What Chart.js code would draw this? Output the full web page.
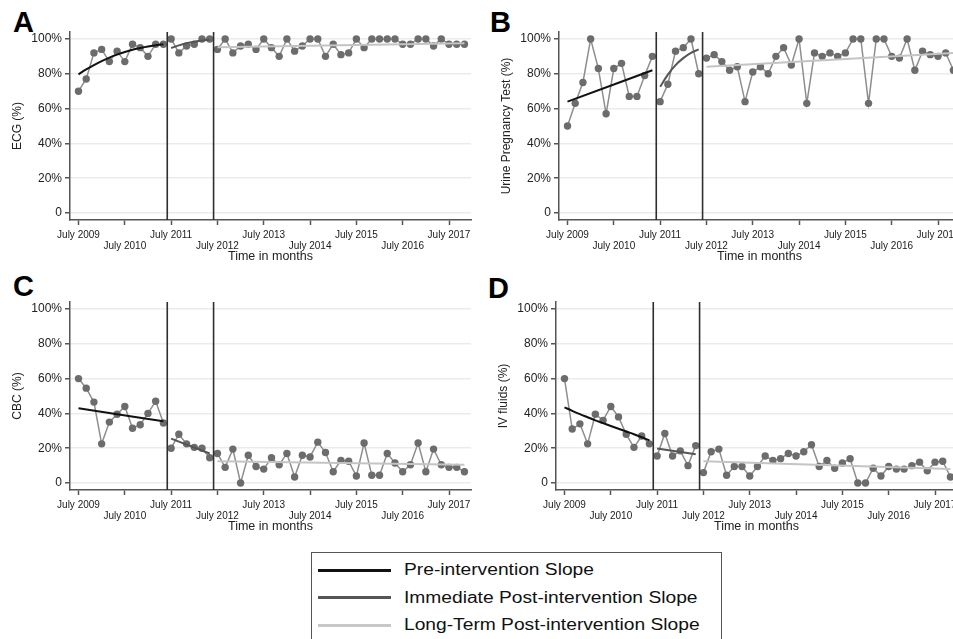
<!DOCTYPE html>
<html>
<head>
<meta charset="utf-8">
<script src="https://cdn.jsdelivr.net/npm/chart.js@4.4.1/dist/chart.umd.min.js"></script>
<style>
  html, body { margin: 0; padding: 0; background: #fff; }
  body { width: 953px; height: 639px; overflow: hidden; position: relative; font-family: 'Liberation Sans', Arial, sans-serif; }
  canvas { position: absolute; }
  .letter { position: absolute; font-weight: bold; font-size: 29px; line-height: 29px; color: #000; }
  #legend { position: absolute; left: 311px; top: 552px; width: 411px; height: 110px; border: 1px solid #555; box-sizing: border-box; }
  .swatch { position: absolute; left: 6px; width: 73px; height: 3px; }
  .label { position: absolute; left: 92px; height: 20px; line-height: 20px; font-size: 16px; white-space: nowrap; color: #111;
           transform: scaleX(1.2); transform-origin: left center; }
</style>
</head>
<body>
<div class="letter" style="left:13px;top:8px">A</div>
<div class="letter" style="left:490px;top:8px">B</div>
<div class="letter" style="left:13px;top:272px">C</div>
<div class="letter" style="left:488px;top:274px">D</div>

<canvas id="chartA" width="480" height="270" style="left:0px;top:0px"></canvas>
<canvas id="chartB" width="480" height="270" style="left:489px;top:0px"></canvas>
<canvas id="chartC" width="480" height="270" style="left:0px;top:270px"></canvas>
<canvas id="chartD" width="480" height="270" style="left:486px;top:270px"></canvas>

<div id="legend">
  <div class="swatch" style="top:15.5px;background:#111"></div>
  <div class="label" style="top:7px">Pre-intervention Slope</div>
  <div class="swatch" style="top:43px;background:#555"></div>
  <div class="label" style="top:34.5px">Immediate Post-intervention Slope</div>
  <div class="swatch" style="top:70.5px;background:#c8c8c8"></div>
  <div class="label" style="top:62px">Long-Term Post-intervention Slope</div>
</div>

<script>
// months since July 2009, one point every two months
const preMonths = [0, 2, 4, 6, 8, 10, 12, 14, 16, 18, 20, 22];
const immMonths = [24, 26, 28, 30, 32, 34];
const longMonths = [36, 38, 40, 42, 44, 46, 48, 50, 52, 54, 56, 58, 60, 62, 64, 66, 68,
  70, 72, 74, 76, 78, 80, 82, 84, 86, 88, 90, 92, 94, 96, 98, 100];
const interventionMonths = [23, 35];

const tickMonths = [0, 12, 24, 36, 48, 60, 72, 84, 96];
const tickLabels = ['July 2009', 'July 2010', 'July 2011', 'July 2012', 'July 2013',
  'July 2014', 'July 2015', 'July 2016', 'July 2017'];
const yTicks = [0, 20, 40, 60, 80, 100];

// A: ECG
const ecgPre = [70, 77, 92, 94, 87, 93, 87, 97, 95, 90, 97, 97];
const ecgImm = [100, 92, 96, 97, 100, 100];
const ecgLong = [94, 100, 92, 96, 97, 94, 100, 95, 90, 100, 93, 96, 100, 100, 90, 97, 91,
  92, 100, 95, 100, 100, 100, 100, 97, 97, 100, 100, 96, 100, 97, 97, 97];
const ecgPreFit = [79.7, 82.5, 85, 87.3, 89.3, 91, 92.5, 93.8, 94.8, 95.7, 96.4, 97];
const ecgImmFit = [94.8, 96.3, 97.5, 98.4, 99.1, 99.6];
const ecgLongFit = [95.2, 97.6];

// B: Urine pregnancy test
const upPre = [50, 63, 75, 100, 83, 57, 83, 86, 67, 67, 79, 90];
const upImm = [64, 74, 93, 95, 100, 80];
const upLong = [89, 91, 87, 82, 84, 64, 81, 84, 80, 90, 95, 85, 100, 63, 92, 90, 92,
  90, 92, 100, 100, 63, 100, 100, 90, 89, 100, 82, 93, 91, 90, 92, 82];
const upPreFit = [64, 82];
const upImmFit = [72.5, 79.5, 85, 89, 92, 94];
const upLongFit = [84, 92];

// C: CBC
const cbcPre = [60, 54.5, 46.5, 22.5, 35, 39.5, 44, 31.5, 33.5, 40, 47, 34.5];
const cbcImm = [20, 28, 22.5, 20.5, 20, 14.5];
const cbcLong = [17, 9, 19.5, 0, 16, 9.5, 8, 14.5, 10.5, 17, 3.5, 16, 15, 23.5, 17.5, 6.5, 13,
  12.5, 4, 23, 4.5, 4.5, 17, 11.5, 6.5, 10.5, 23, 6.5, 19.5, 10.5, 9, 9, 6.5];
const cbcPreFit = [43, 35.5];
const cbcImmFit = [25.5, 17];
const cbcLongFit = [12.5, 10.5];

// D: IV fluids
const ivPre = [60, 31, 34, 22.5, 39.5, 36, 44, 38, 28, 20.5, 27, 22.5];
const ivImm = [15.5, 28.5, 15.5, 18.5, 10, 21.5];
const ivLong = [6, 18, 19.5, 4.5, 9.5, 9.5, 4, 9.5, 15.5, 13, 14, 17, 15.5, 18, 22, 9.5, 13,
  8.5, 11.5, 14, 0, 0, 8.5, 4, 9.5, 8, 8, 10, 12, 7, 12, 12.5, 3.5];
const ivPreFit = [43.5, 41.5, 39.6, 37.8, 36, 34.4, 32.8, 31.2, 29.6, 28, 26.3, 24.5];
const ivImmFit = [19.8, 16.5];
const ivLongFit = [12.5, 8];

const X_MIN = -2.2, X_MAX = 101.7;
const Y_MIN = -4, Y_MAX = 104;
const FONT = "'Liberation Sans', Arial, sans-serif";

function pts(months, vals) {
  return months.map((m, i) => ({ x: m, y: vals[i] }));
}
// a fit is either one value per month or just its two ends
function fitPts(months, fit) {
  if (fit.length === months.length) return pts(months, fit);
  return [{ x: months[0], y: fit[0] }, { x: months[months.length - 1], y: fit[1] }];
}

function fitSet(months, fit, color) {
  return {
    data: fitPts(months, fit),
    borderColor: color, borderWidth: 2, pointRadius: 0,
    cubicInterpolationMode: 'monotone', tension: 0.4
  };
}
function dataSet(months, vals) {
  return {
    data: pts(months, vals),
    borderColor: '#8e8e8e', borderWidth: 1.5,
    pointRadius: 3.7, pointBackgroundColor: '#6c6c6c', pointBorderWidth: 0
  };
}

function makePanel(id, yTitle, pre, imm, long, preFit, immFit, longFit) {
  const vlines = interventionMonths.map(m => ({
    data: [{ x: m, y: Y_MIN }, { x: m, y: Y_MAX }],
    borderColor: '#2e2e2e', borderWidth: 1.6, pointRadius: 0
  }));
  return new Chart(document.getElementById(id), {
    type: 'line',
    data: {
      datasets: [
        ...vlines,
        fitSet(preMonths, preFit, '#111'),
        fitSet(immMonths, immFit, '#555'),
        fitSet(longMonths, longFit, '#c4c4c4'),
        dataSet(preMonths, pre),
        dataSet(immMonths, imm),
        dataSet(longMonths, long)
      ]
    },
    options: {
      responsive: false,
      animation: false,
      layout: { padding: { left: 6, top: 32, right: 9, bottom: 0 } },
      plugins: { legend: { display: false }, tooltip: { enabled: false } },
      scales: {
        x: {
          type: 'linear', min: X_MIN, max: X_MAX,
          afterBuildTicks: s => { s.ticks = tickMonths.map(v => ({ value: v })); },
          afterFit: s => { s.height = 50; },
          grid: { drawOnChartArea: false, drawTicks: true, tickLength: 5, tickColor: '#555', tickWidth: 1.5 },
          border: { color: '#555', width: 1.5 },
          ticks: {
            autoSkip: false, maxRotation: 0, padding: 5, color: '#1a1a1a',
            font: { size: 10, family: FONT, lineHeight: 1.05 },
            callback: (v, i) => i % 2 === 0 ? [tickLabels[i], ''] : ['', tickLabels[i]]
          },
          title: {
            display: true, text: 'Time in months', color: '#222',
            font: { size: 12.5, family: FONT }, padding: { top: 0, bottom: 6 }
          }
        },
        y: {
          min: Y_MIN, max: Y_MAX,
          afterBuildTicks: s => { s.ticks = yTicks.map(v => ({ value: v })); },
          afterFit: s => { s.width = 64; },
          grid: { color: '#ebebeb', lineWidth: 1.5, drawTicks: true, tickLength: 5, tickColor: '#555', tickWidth: 1.5 },
          border: { color: '#555', width: 1.5 },
          ticks: {
            padding: 3, color: '#222', font: { size: 12, family: FONT },
            callback: v => v === 0 ? '0' : v + '%'
          },
          title: {
            display: true, text: yTitle, color: '#222',
            font: { size: 12, family: FONT }, padding: { top: 4, bottom: 0 }
          }
        }
      }
    }
  });
}

makePanel('chartA', 'ECG (%)', ecgPre, ecgImm, ecgLong, ecgPreFit, ecgImmFit, ecgLongFit);
makePanel('chartB', 'Urine Pregnancy Test (%)', upPre, upImm, upLong, upPreFit, upImmFit, upLongFit);
makePanel('chartC', 'CBC (%)', cbcPre, cbcImm, cbcLong, cbcPreFit, cbcImmFit, cbcLongFit);
makePanel('chartD', 'IV fluids (%)', ivPre, ivImm, ivLong, ivPreFit, ivImmFit, ivLongFit);
</script>
</body>
</html>
